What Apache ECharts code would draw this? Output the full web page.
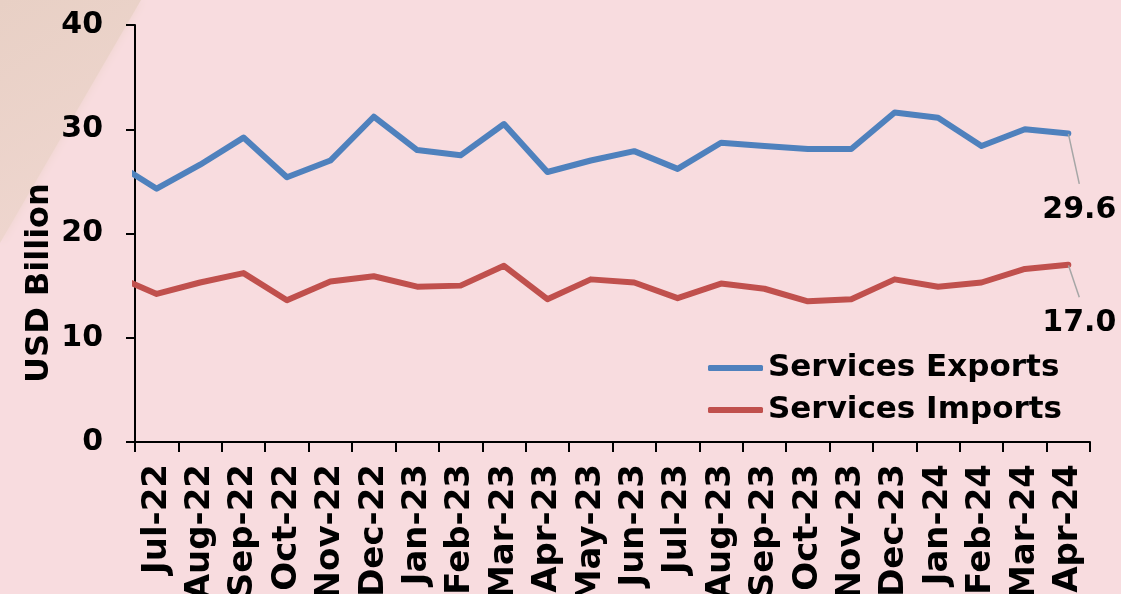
<!DOCTYPE html>
<html>
<head>
<meta charset="utf-8">
<script src="https://cdn.jsdelivr.net/npm/echarts@6/dist/echarts.min.js"></script>
<style>
html,body{margin:0;padding:0;background:#F8DCDF;}
#c{width:1121px;height:594px;}
</style>
</head>
<body>
<div id="c"></div>
<script>
// Categories (Jun-22 lies just left of the plot area and is clipped, as in the reference)
const months = ['Jun-22','Jul-22','Aug-22','Sep-22','Oct-22','Nov-22','Dec-22',
  'Jan-23','Feb-23','Mar-23','Apr-23','May-23','Jun-23','Jul-23','Aug-23','Sep-23','Oct-23','Nov-23','Dec-23',
  'Jan-24','Feb-24','Mar-24','Apr-24'];
const servicesExports = [26.9, 24.3, 26.6, 29.2, 25.4, 27.0, 31.2, 28.0, 27.5, 30.5, 25.9, 27.0,
  27.9, 26.2, 28.7, 28.4, 28.1, 28.1, 31.6, 31.1, 28.4, 30.0, 29.6];
const servicesImports = [16.0, 14.2, 15.3, 16.2, 13.6, 15.4, 15.9, 14.9, 15.0, 16.9, 13.7, 15.6,
  15.3, 13.8, 15.2, 14.7, 13.5, 13.7, 15.6, 14.9, 15.3, 16.6, 17.0];
const seriesNames = ['Services Exports', 'Services Imports'];
const yAxisName = 'USD Billion';
const yMin = 0, yMax = 40, yStep = 10;

const FONT = 'DejaVu Sans';
const chart = echarts.init(document.getElementById('c'), null, {renderer: 'canvas'});

function buildData(values) {
  const last = values.length - 1;
  return values.map((v, i) => i === last
    ? {value: [i, v], label: {show: true}}
    : [i, v]);
}

function makeSeries(name, values, color, dy) {
  return {
    name: name,
    type: 'line',
    xAxisIndex: 1,
    yAxisIndex: 0,
    data: buildData(values),
    symbol: 'circle',
    symbolSize: 1,
    showSymbol: true,
    showAllSymbol: true,
    clip: true,
    lineStyle: {color: color, width: 6, cap: 'round', join: 'round'},
    itemStyle: {color: color},
    emphasis: {disabled: true},
    label: {
      show: false,
      position: 'bottom',
      distance: 0,
      color: '#000',
      fontFamily: FONT,
      fontWeight: 'bold',
      fontSize: 30,
      lineHeight: 30,
      padding: [11, 0, 0, 0],
      formatter: p => p.value[1].toFixed(1)
    },
    labelLine: {show: true, lineStyle: {color: '#A6A6A6', width: 1.5}},
    labelLayout: {dx: 11, dy: dy},
    z: 3
  };
}

const option = {
  backgroundColor: '#F8DCDF',
  animation: false,
  graphic: [
    {
      type: 'polygon',
      z: -10,
      silent: true,
      shape: {points: [[0, 0], [141, 0], [0, 243]]},
      style: {
        fill: new echarts.graphic.LinearGradient(0, 0, 1, 1, [
          {offset: 0, color: '#E8D0C5'},
          {offset: 1, color: '#F0D7D1'}
        ]),
        shadowBlur: 10,
        shadowColor: 'rgba(236,211,203,0.9)'
      }
    },
    {
      type: 'text',
      x: 40,
      y: 283,
      rotation: Math.PI / 2,
      style: {
        text: yAxisName,
        fill: '#000',
        font: 'bold 32px "DejaVu Sans"',
        textAlign: 'center',
        textVerticalAlign: 'middle'
      }
    }
  ],
  grid: {left: 135, right: 31, top: 25, bottom: 152, containLabel: false, outerBoundsMode: 'none'},
  legend: {
    show: true,
    orient: 'vertical',
    left: 703,
    top: 345,
    itemWidth: 55,
    itemHeight: 6,
    itemGap: 6,
    icon: 'roundRect',
    data: seriesNames,
    textStyle: {color: '#000', fontFamily: FONT, fontWeight: 'bold', fontSize: 31, lineHeight: 36}
  },
  xAxis: [
    {
      type: 'category',
      data: months.slice(1),
      boundaryGap: true,
      axisLine: {show: true, lineStyle: {color: '#000', width: 2}},
      axisTick: {show: true, interval: 0, length: 10, lineStyle: {color: '#000', width: 2}},
      axisLabel: {
        show: true, interval: 0, rotate: 90, margin: 22,
        color: '#000', fontFamily: FONT, fontWeight: 'bold', fontSize: 34
      },
      splitLine: {show: false}
    },
    {
      type: 'value',
      show: false,
      position: 'top',
      min: 0.5,
      max: months.length - 0.5,
      splitLine: {show: false}
    }
  ],
  yAxis: {
    type: 'value',
    min: yMin,
    max: yMax,
    interval: yStep,
    axisLine: {show: true, lineStyle: {color: '#000', width: 2}},
    axisTick: {show: true, length: 9, lineStyle: {color: '#000', width: 2}},
    axisLabel: {color: '#000', fontFamily: FONT, fontWeight: 'bold', fontSize: 30, margin: 32},
    splitLine: {show: false}
  },
  series: [
    makeSeries(seriesNames[0], servicesExports, '#4F81BD', 50),
    makeSeries(seriesNames[1], servicesImports, '#C0504D', 32)
  ]
};
chart.setOption(option);
</script>
</body>
</html>
